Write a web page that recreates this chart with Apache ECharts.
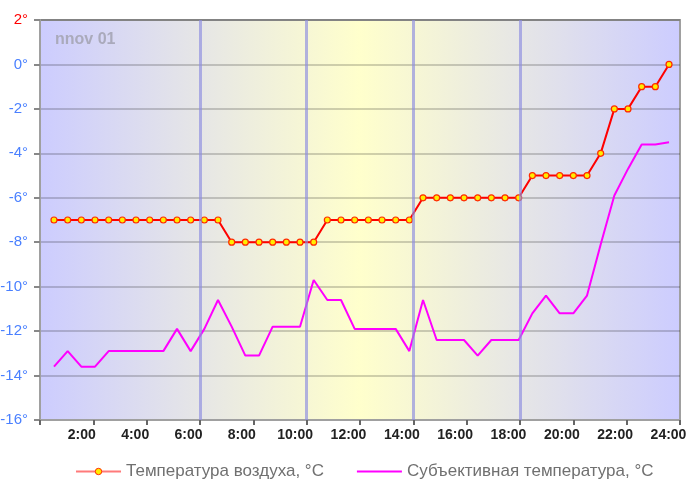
<!DOCTYPE html>
<html>
<head>
<meta charset="utf-8">
<script src="https://cdn.jsdelivr.net/npm/echarts@6/dist/echarts.min.js"></script>
<style>
html,body{margin:0;padding:0;background:#fff;}
#chart{width:687px;height:487px;}
</style>
</head>
<body>
<div id="chart"></div>
<script>
// Observation times (hours of the day)
var times = [0.525, 1.038, 1.55, 2.063, 2.575, 3.088, 3.6, 4.113, 4.625, 5.138,
  5.65, 6.163, 6.675, 7.188, 7.7, 8.213, 8.725, 9.238, 9.75, 10.263,
  10.775, 11.288, 11.8, 12.313, 12.825, 13.338, 13.85, 14.363, 14.875, 15.388,
  15.9, 16.413, 16.925, 17.438, 17.95, 18.463, 18.975, 19.488, 20.0, 20.513,
  21.025, 21.538, 22.05, 22.563, 23.075, 23.588];
// Air temperature, °C
var airTemp = [-7, -7, -7, -7, -7, -7, -7, -7, -7, -7,
  -7, -7, -7, -8, -8, -8, -8, -8, -8, -8,
  -7, -7, -7, -7, -7, -7, -7, -6, -6, -6,
  -6, -6, -6, -6, -6, -5, -5, -5, -5, -5,
  -4, -2, -2, -1, -1, 0];
// Feels-like temperature, °C
var feelsTemp = [-13.6, -12.9, -13.6, -13.6, -12.9, -12.9, -12.9, -12.9, -12.9, -11.9,
  -12.9, -11.9, -10.6, -11.8, -13.1, -13.1, -11.8, -11.8, -11.8, -9.7,
  -10.6, -10.6, -11.9, -11.9, -11.9, -11.9, -12.9, -10.6, -12.4, -12.4,
  -12.4, -13.1, -12.4, -12.4, -12.4, -11.2, -10.4, -11.2, -11.2, -10.4,
  -8.1, -5.9, -4.7, -3.6, -3.6, -3.5];
var periodLines = [6, 10, 14, 18];
var seriesNames = ['Температура воздуха, °C', 'Субъективная температура, °C'];
var stationLabel = 'nnov 01';

var FONT = 'Liberation Sans, Arial, sans-serif';
var chart = echarts.init(document.getElementById('chart'), null, {renderer: 'canvas'});

function pairs(vals) { return vals.map(function (v, i) { return [times[i], v]; }); }

var option = {
  animation: false,
  textStyle: {fontFamily: FONT},
  grid: {
    left: 40, top: 20, right: 7, bottom: 67,
    containLabel: false,
    outerBoundsMode: 'none',
    show: true,
    borderColor: '#a0a0a0',
    borderWidth: 2,
    backgroundColor: {
      type: 'linear', x: 0, y: 0, x2: 1, y2: 0,
      colorStops: [
        {offset: 0, color: '#ccccff'},
        {offset: 0.25, color: '#e6e6e6'},
        {offset: 0.5, color: '#ffffcc'},
        {offset: 0.75, color: '#e6e6e6'},
        {offset: 1, color: '#ccccff'}
      ]
    }
  },
  graphic: [{
    type: 'text', left: 55, top: 32, z: 0,
    style: {text: stationLabel, fill: '#aaaabb', font: 'bold 16px ' + FONT}
  }],
  legend: {
    left: 75, top: 463, padding: 0,
    itemWidth: 45, itemHeight: 8, itemGap: 32,
    textStyle: {color: '#707070', fontSize: 17, fontFamily: FONT},
    data: [
      {name: seriesNames[0], lineStyle: {color: '#ff7a7a', width: 2},
        itemStyle: {color: '#ffee00', borderColor: '#ff2a00', borderWidth: 1}},
      {name: seriesNames[1], lineStyle: {color: '#ff00ff', width: 2},
        itemStyle: {color: 'rgba(0,0,0,0)', borderColor: 'rgba(0,0,0,0)', borderWidth: 0}}
    ]
  },
  xAxis: {
    type: 'value', min: 0, max: 24, interval: 2,
    axisLine: {show: true, onZero: false, lineStyle: {color: '#a0a0a0', width: 2}},
    axisTick: {show: true, length: 5, lineStyle: {color: '#666', width: 2}},
    splitLine: {show: false},
    axisLabel: {
      color: '#222', fontSize: 14, fontWeight: 'bold', fontFamily: FONT,
      margin: 8, padding: [0, 23, 0, 0],
      formatter: function (v) { return v === 0 ? '' : v + ':00'; }
    }
  },
  yAxis: {
    type: 'value', min: -16, max: 2, interval: 2,
    axisLine: {show: true, lineStyle: {color: '#a0a0a0', width: 2}},
    axisTick: {show: true, length: 6, lineStyle: {color: '#888', width: 2}},
    splitLine: {show: true, lineStyle: {color: 'rgba(0,0,0,0.18)', width: 2}},
    axisLabel: {
      fontSize: 15, fontFamily: FONT, margin: 12,
      color: function (v) { return Number(v) > 0 ? '#ff0000' : '#4a80ff'; },
      formatter: function (v) { return v + '°'; }
    }
  },
  series: [
    {
      name: '_periods', type: 'line', data: [], z: 1, silent: true,
      markLine: {
        silent: true, symbol: ['none', 'none'], animation: false,
        label: {show: false},
        lineStyle: {color: 'rgba(140,140,225,0.65)', width: 3, type: 'solid'},
        data: periodLines.map(function (h) { return {xAxis: h}; })
      }
    },
    {
      name: seriesNames[1], type: 'line', z: 3,
      data: pairs(feelsTemp),
      showSymbol: false, symbol: 'none',
      lineStyle: {color: '#ff00ff', width: 2},
      itemStyle: {color: '#ff00ff'}
    },
    {
      name: seriesNames[0], type: 'line', z: 4,
      data: pairs(airTemp),
      symbol: 'circle', symbolSize: 6, showSymbol: true,
      lineStyle: {color: '#ff0000', width: 2},
      itemStyle: {color: '#ffee00', borderColor: '#ff2a00', borderWidth: 1.2}
    }
  ]
};
chart.setOption(option);
</script>
</body>
</html>
